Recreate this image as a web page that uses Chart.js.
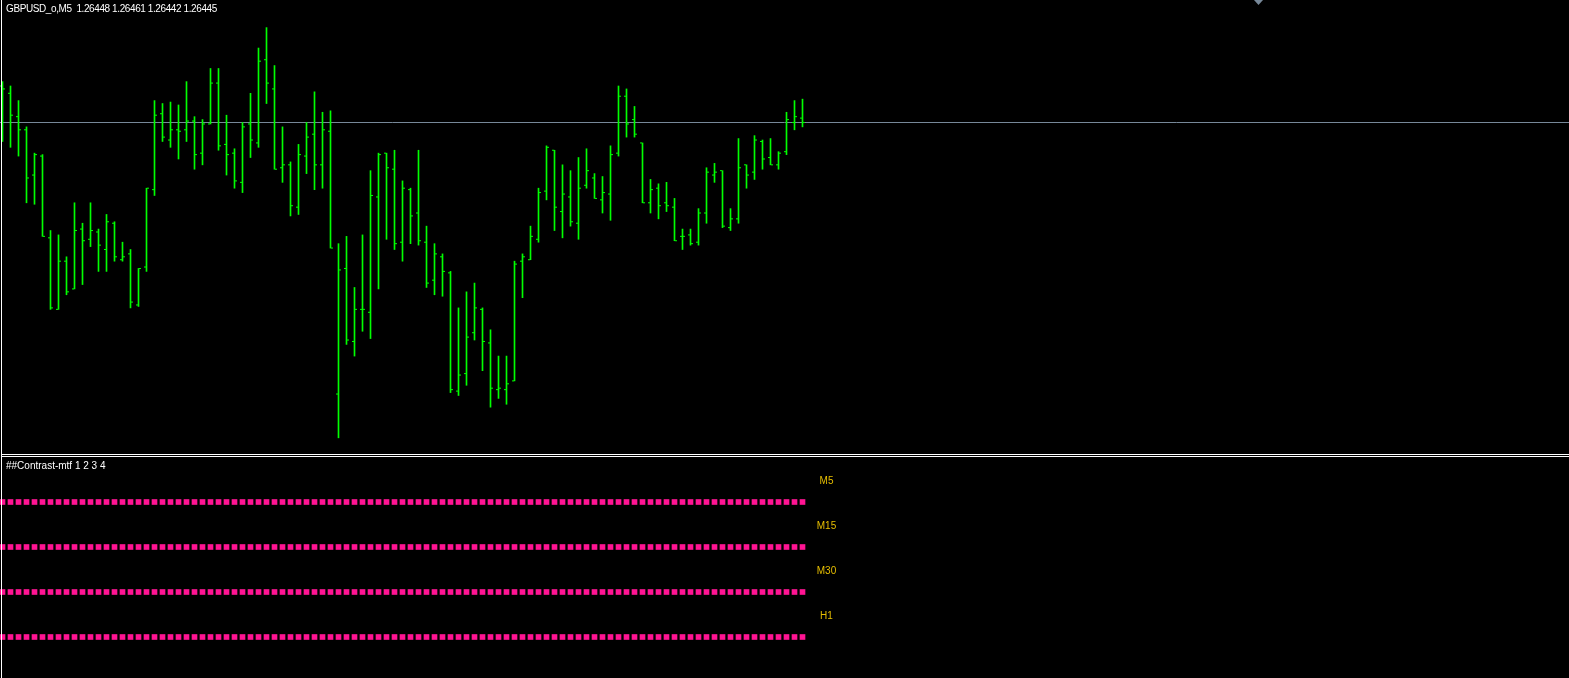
<!DOCTYPE html>
<html>
<head>
<meta charset="utf-8">
<script src="https://cdn.jsdelivr.net/npm/chart.js"></script>
<style>
  html, body { margin: 0; padding: 0; background: #000; }
  body { width: 1569px; height: 678px; position: relative; overflow: hidden; }
  .painel { position: absolute; left: 0; width: 1569px; }
  .linha { position: absolute; background: #fff; }
</style>
</head>
<body>
<div class="painel" style="top:0;height:454px"><canvas id="graficoPreco"></canvas></div>
<div class="painel" style="top:457px;height:221px"><canvas id="graficoMtf"></canvas></div>
<div class="linha" style="left:1px;top:0;width:1px;height:678px"></div>
<div class="linha" style="left:1px;top:454px;width:1568px;height:1px"></div>
<div class="linha" style="left:1px;top:456px;width:1568px;height:1px"></div>
<script>
// --- Dados ---
// GBPUSD_o M5: abertura, máxima, mínima e fechamento de cada barra (101 barras).
const simbolo = 'GBPUSD_o,M5';
const abertura = [
  1.26470, 1.26465, 1.26449, 1.26440, 1.26409, 1.26422, 1.26366, 1.26317, 1.26350, 1.26331,
  1.26372, 1.26365, 1.26370, 1.26358, 1.26376, 1.26351, 1.26355, 1.26320, 1.26346, 1.26399,
  1.26451, 1.26433, 1.26440, 1.26440, 1.26446, 1.26424, 1.26444, 1.26472, 1.26430, 1.26424,
  1.26404, 1.26444, 1.26431, 1.26488, 1.26468, 1.26414, 1.26416, 1.26387, 1.26422, 1.26437,
  1.26416, 1.26439, 1.26259, 1.26345, 1.26295, 1.26317, 1.26315, 1.26394, 1.26424, 1.26413,
  1.26363, 1.26399, 1.26383, 1.26363, 1.26337, 1.26353, 1.26342, 1.26261, 1.26273, 1.26301,
  1.26317, 1.26294, 1.26262, 1.26262, 1.26268, 1.26350, 1.26351, 1.26365, 1.26398, 1.26426,
  1.26384, 1.26394, 1.26376, 1.26402, 1.26407, 1.26392, 1.26396, 1.26424, 1.26463, 1.26447,
  1.26431, 1.26390, 1.26400, 1.26390, 1.26387, 1.26367, 1.26368, 1.26363, 1.26383, 1.26409,
  1.26412, 1.26373, 1.26379, 1.26416, 1.26411, 1.26432, 1.26421, 1.26416, 1.26425, 1.26445,
  1.26448
];
const maxima = [
  1.26473, 1.26470, 1.26460, 1.26442, 1.26424, 1.26423, 1.26371, 1.26368, 1.26353, 1.26390,
  1.26376, 1.26390, 1.26372, 1.26382, 1.26377, 1.26363, 1.26358, 1.26345, 1.26400, 1.26460,
  1.26458, 1.26459, 1.26457, 1.26473, 1.26449, 1.26447, 1.26482, 1.26482, 1.26450, 1.26427,
  1.26445, 1.26465, 1.26496, 1.26510, 1.26484, 1.26442, 1.26418, 1.26430, 1.26445, 1.26466,
  1.26452, 1.26453, 1.26362, 1.26367, 1.26332, 1.26368, 1.26412, 1.26424, 1.26424, 1.26426,
  1.26405, 1.26400, 1.26426, 1.26374, 1.26362, 1.26355, 1.26343, 1.26318, 1.26329, 1.26335,
  1.26318, 1.26303, 1.26285, 1.26285, 1.26350, 1.26355, 1.26374, 1.26400, 1.26429, 1.26426,
  1.26416, 1.26412, 1.26421, 1.26427, 1.26410, 1.26408, 1.26429, 1.26470, 1.26468, 1.26456,
  1.26431, 1.26406, 1.26403, 1.26404, 1.26393, 1.26372, 1.26372, 1.26386, 1.26414, 1.26417,
  1.26412, 1.26386, 1.26434, 1.26416, 1.26436, 1.26433, 1.26434, 1.26425, 1.26452, 1.26460,
  1.26461
];
const minima = [
  1.26432, 1.26428, 1.26422, 1.26390, 1.26389, 1.26367, 1.26317, 1.26317, 1.26327, 1.26331,
  1.26334, 1.26360, 1.26343, 1.26343, 1.26350, 1.26350, 1.26318, 1.26319, 1.26343, 1.26395,
  1.26432, 1.26428, 1.26420, 1.26432, 1.26413, 1.26416, 1.26444, 1.26426, 1.26409, 1.26400,
  1.26397, 1.26421, 1.26428, 1.26458, 1.26413, 1.26404, 1.26381, 1.26382, 1.26410, 1.26399,
  1.26400, 1.26359, 1.26229, 1.26293, 1.26285, 1.26302, 1.26297, 1.26331, 1.26365, 1.26358,
  1.26350, 1.26362, 1.26361, 1.26332, 1.26327, 1.26326, 1.26260, 1.26258, 1.26265, 1.26296,
  1.26275, 1.26250, 1.26256, 1.26252, 1.26268, 1.26325, 1.26351, 1.26363, 1.26392, 1.26371,
  1.26366, 1.26374, 1.26365, 1.26400, 1.26393, 1.26383, 1.26378, 1.26422, 1.26435, 1.26435,
  1.26390, 1.26383, 1.26379, 1.26384, 1.26364, 1.26358, 1.26361, 1.26361, 1.26376, 1.26404,
  1.26373, 1.26371, 1.26376, 1.26400, 1.26406, 1.26413, 1.26416, 1.26413, 1.26423, 1.26440,
  1.26442
];
const fechamento = [
  1.26468, 1.26450, 1.26440, 1.26407, 1.26423, 1.26367, 1.26318, 1.26350, 1.26329, 1.26371,
  1.26364, 1.26371, 1.26361, 1.26377, 1.26353, 1.26353, 1.26322, 1.26345, 1.26400, 1.26450,
  1.26435, 1.26440, 1.26439, 1.26446, 1.26423, 1.26444, 1.26472, 1.26429, 1.26423, 1.26405,
  1.26442, 1.26433, 1.26487, 1.26472, 1.26413, 1.26416, 1.26388, 1.26423, 1.26435, 1.26416,
  1.26440, 1.26359, 1.26344, 1.26296, 1.26317, 1.26317, 1.26395, 1.26423, 1.26414, 1.26362,
  1.26400, 1.26381, 1.26364, 1.26335, 1.26355, 1.26343, 1.26262, 1.26272, 1.26298, 1.26318,
  1.26295, 1.26263, 1.26263, 1.26266, 1.26348, 1.26353, 1.26367, 1.26397, 1.26428, 1.26387,
  1.26396, 1.26377, 1.26400, 1.26412, 1.26393, 1.26397, 1.26423, 1.26463, 1.26444, 1.26437,
  1.26390, 1.26399, 1.26388, 1.26388, 1.26364, 1.26367, 1.26362, 1.26383, 1.26411, 1.26411,
  1.26374, 1.26379, 1.26414, 1.26409, 1.26433, 1.26420, 1.26416, 1.26424, 1.26447, 1.26449,
  1.26445
];

// Indicador Contrast-mtf: períodos e nível de cada linha na sub-janela.
const periodos = ['M5', 'M15', 'M30', 'H1'];
const niveis = [1, 2, 3, 4];
const colunaRotulo = 103;   // barra onde ficam os rótulos dos períodos
const barraShift = 157;     // marcador de deslocamento do gráfico

// --- Escalas ---
// 8 px por barra; preço mapeado para a altura do painel superior.
const xMin = -0.3125;
const xMax = 195.8125;
const precoMax = 1.26528913;
const precoMin = 1.26217923;

// --- Funções Utilitárias ---
function formatarPreco(valor) {
  return valor.toFixed(5);
}

const ultima = abertura.length - 1;
const bid = fechamento[ultima];
const tituloPreco = simbolo + '  ' + formatarPreco(abertura[ultima]) + ' ' +
  formatarPreco(maxima[ultima]) + ' ' + formatarPreco(minima[ultima]) + ' ' +
  formatarPreco(fechamento[ultima]);

// Plugin que escreve o texto no canto superior esquerdo de cada painel.
const textoPainel = {
  id: 'textoPainel',
  afterDraw(chart, args, opts) {
    const ctx = chart.ctx;
    ctx.save();
    ctx.font = '10px "Liberation Sans", Arial, sans-serif';
    ctx.letterSpacing = opts.espaco || '0px';
    ctx.fillStyle = '#ffffff';
    ctx.textBaseline = 'alphabetic';
    ctx.textAlign = 'left';
    ctx.fillText(opts.texto, 6, 12);
    ctx.restore();
  }
};

// Plugin que escreve M5, M15, M30, H1 acima de cada linha.
const rotulosPeriodo = {
  id: 'rotulosPeriodo',
  afterDatasetsDraw(chart) {
    const ctx = chart.ctx;
    const x = chart.scales.x;
    const y = chart.scales.y;
    ctx.save();
    ctx.font = '10px "Liberation Sans", Arial, sans-serif';
    ctx.fillStyle = '#e6be00';
    ctx.textAlign = 'center';
    ctx.textBaseline = 'alphabetic';
    periodos.forEach((p, k) => {
      ctx.fillText(p, x.getPixelForValue(colunaRotulo), y.getPixelForValue(niveis[k] - 0.4));
    });
    ctx.restore();
  }
};

// Triângulo do deslocamento do gráfico (desenhado como imagem de ponto).
const marcador = document.createElement('canvas');
marcador.width = 9;
marcador.height = 10;
const mctx = marcador.getContext('2d');
mctx.fillStyle = '#778899';
mctx.beginPath();
mctx.moveTo(0, 5);
mctx.lineTo(9, 5);
mctx.lineTo(4.5, 10);
mctx.closePath();
mctx.fill();

Chart.defaults.animation = false;
Chart.defaults.plugins.legend.display = false;
Chart.defaults.plugins.tooltip.enabled = false;

const escalaX = { type: 'linear', min: xMin, max: xMax, offset: false, display: false };
const semMargem = { padding: 0, autoPadding: false };

// --- Gráfico de preço ---
const graficoPreco = document.getElementById('graficoPreco');
new Chart(graficoPreco, {
  type: 'bar',
  data: {
    datasets: [
      {
        type: 'line',
        data: [{ x: xMin, y: bid }, { x: xMax, y: bid }],
        borderColor: '#778899',
        borderWidth: 1,
        pointRadius: 0,
        order: 3
      },
      {
        type: 'bar',
        data: abertura.map((_, i) => ({ x: i, y: [minima[i], maxima[i]] })),
        backgroundColor: '#00ff00',
        borderWidth: 0,
        barThickness: 1,
        grouped: false,
        order: 2
      },
      {
        type: 'scatter',
        data: abertura.map((v, i) => ({ x: i - 0.1875, y: v })),
        pointStyle: 'line',
        pointRadius: 1,
        pointBorderColor: '#00ff00',
        pointBorderWidth: 1,
        order: 1
      },
      {
        type: 'scatter',
        data: fechamento.map((v, i) => ({ x: i + 0.1875, y: v })),
        pointStyle: 'line',
        pointRadius: 1,
        pointBorderColor: '#00ff00',
        pointBorderWidth: 1,
        order: 1
      },
      {
        type: 'scatter',
        data: [{ x: barraShift, y: precoMax }],
        pointStyle: marcador,
        clip: false,
        order: 0
      }
    ]
  },
  options: {
    responsive: true,
    maintainAspectRatio: false,
    layout: semMargem,
    scales: {
      x: escalaX,
      y: { type: 'linear', min: precoMin, max: precoMax, display: false }
    },
    plugins: { textoPainel: { texto: tituloPreco, espaco: '-0.4px' } }
  },
  plugins: [textoPainel]
});

// --- Gráfico Contrast-mtf ---
const graficoMtf = document.getElementById('graficoMtf');
new Chart(graficoMtf, {
  type: 'scatter',
  data: {
    datasets: niveis.map(n => ({
      data: abertura.map((_, i) => ({ x: i, y: n })),
      pointStyle: 'rect',
      pointRadius: 4,
      pointBorderWidth: 0,
      backgroundColor: '#ff1493',
      showLine: false
    }))
  },
  options: {
    responsive: true,
    maintainAspectRatio: false,
    layout: semMargem,
    scales: {
      x: escalaX,
      y: { type: 'linear', min: 0, max: 4.9111, reverse: true, display: false }
    },
    plugins: { textoPainel: { texto: '##Contrast-mtf 1 2 3 4' } }
  },
  plugins: [textoPainel, rotulosPeriodo]
});
</script>
</body>
</html>
